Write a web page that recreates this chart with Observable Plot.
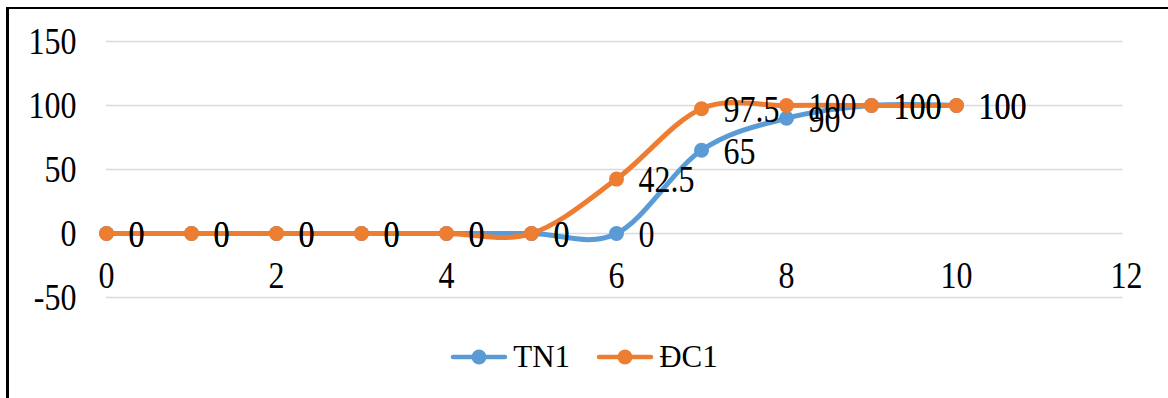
<!DOCTYPE html>
<html>
<head>
<meta charset="utf-8">
<script src="https://cdn.jsdelivr.net/npm/d3@7"></script>
<script src="https://cdn.jsdelivr.net/npm/@observablehq/plot@0.6"></script>
<style>
  html, body { margin: 0; padding: 0; background: #fff; font-family: "Liberation Serif", "Times New Roman", serif; }
  #page { position: relative; width: 1168px; height: 398px; overflow: hidden; background: #fff; }
  #frame { position: absolute; left: 6px; top: 7px; width: 1300px; height: 500px;
           border-left: 3px solid #000; border-top: 2px solid #000; box-sizing: border-box; }
  #chart { position: absolute; left: 0; top: 0; }
  #chart svg, #chart text { font-family: "Liberation Serif", "Times New Roman", serif; }
  #legend { position: absolute; left: 0; top: 339px; width: 1168px; height: 36px;
            display: flex; justify-content: center; align-items: center; gap: 26px;
            font-family: "Liberation Serif", "Times New Roman", serif; font-size: 31px; color: #000; }
  .item { display: flex; align-items: center; gap: 5px; }
</style>
</head>
<body>
<div id="page">
  <div id="frame"></div>
  <div id="chart"></div>
  <div id="legend"></div>
</div>
<script>
// Days on the x axis and the two series plotted against them
const days = [0, 1, 2, 3, 4, 5, 6, 7, 8, 9, 10];
const tn1 = [0, 0, 0, 0, 0, 0, 0, 65, 90, 100, 100];
const dc1 = [0, 0, 0, 0, 0, 0, 42.5, 97.5, 100, 100, 100];
const seriesNames = ["TN1", "ĐC1"];
const seriesColors = ["#5B9BD5", "#ED7D31"];

// Axis tick values
const yTicks = [-50, 0, 50, 100, 150];
const xTicks = [0, 2, 4, 6, 8, 10, 12];

const rows = [
  ...days.map((d, i) => ({series: seriesNames[0], x: d, y: tn1[i]})),
  ...days.map((d, i) => ({series: seriesNames[1], x: d, y: dc1[i]}))
];

const font = "Liberation Serif, Times New Roman, serif";
const fs = 32;

const seriesMarks = seriesNames.flatMap((name, k) => {
  const data = rows.filter(r => r.series === name);
  return [
    Plot.line(data, {x: "x", y: "y", stroke: seriesColors[k], strokeWidth: 5, curve: "cardinal"}),
    Plot.dot(data, {x: "x", y: "y", r: 7.5, fill: seriesColors[k], stroke: "none"})
  ];
});

const chart = Plot.plot({
  width: 1168,
  height: 320,
  marginLeft: 106,
  marginRight: 42,
  marginTop: 41,
  marginBottom: 23,
  x: {domain: [0, 12], axis: null},
  y: {domain: [-50, 150], axis: null},
  style: {fontFamily: font, fontSize: fs + "px", color: "#000", background: "transparent", overflow: "visible"},
  marks: [
    Plot.ruleY(yTicks, {y: d => d, x1: 0, x2: 11.96, stroke: "#d9d9d9", strokeWidth: 1.3}),
    Plot.axisY(yTicks, {tickSize: 0, tickPadding: 30, label: null, tickFormat: d => String(d),
                        fontSize: fs, fontFamily: font, fill: "#000"}),
    Plot.text(xTicks, {x: d => d, y: 0, dy: 42, text: d => String(d), fontSize: fs, fontFamily: font, fill: "#000"}),
    ...seriesMarks,
    Plot.text(rows, {x: "x", y: "y", text: d => String(d.y), textAnchor: "start", dx: 22, dy: 1,
                     fontSize: fs, fontFamily: font, fill: "#000"})
  ]
});

// Chart text is set in a slightly tall serif: stretch each label vertically about its anchor
chart.querySelectorAll("text").forEach(t => {
  const tr = t.getAttribute("transform") || "";
  t.setAttribute("transform", (tr + " scale(1,1.2)").trim());
});
document.getElementById("chart").appendChild(chart);

// Legend below the plot
const legend = document.getElementById("legend");
seriesNames.forEach((name, k) => {
  const item = document.createElement("div");
  item.className = "item";
  item.innerHTML =
    `<svg width="58" height="18" viewBox="0 0 58 18">
       <line x1="3" y1="9" x2="55" y2="9" stroke="${seriesColors[k]}" stroke-width="4.5" stroke-linecap="round"/>
       <circle cx="29" cy="9" r="7.5" fill="${seriesColors[k]}"/>
     </svg><span>${name}</span>`;
  legend.appendChild(item);
});
</script>
</body>
</html>
